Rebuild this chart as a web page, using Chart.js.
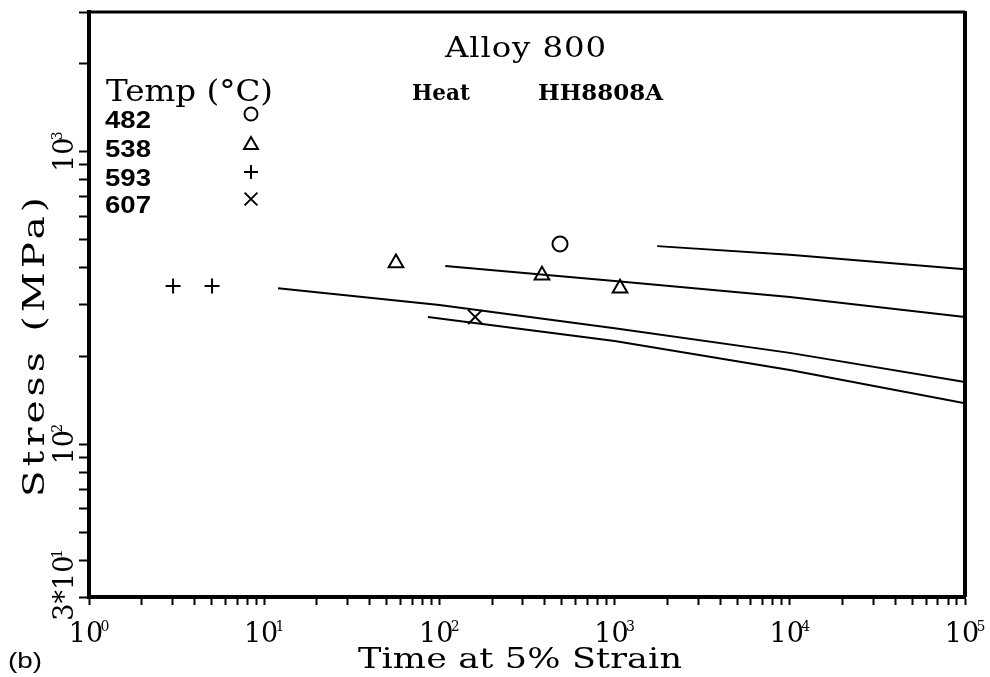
<!DOCTYPE html>
<html>
<head>
<meta charset="utf-8">
<script src="https://cdn.jsdelivr.net/npm/chart.js@4/dist/chart.umd.min.js"></script>
<style>
html,body{margin:0;padding:0;background:#fff}
#wrap{width:990px;height:677px;position:relative}
</style>
</head>
<body>
<div id="wrap"><canvas id="c"></canvas></div>
<script>
// ---------- data ----------
const tempLabels = ['482', '538', '593', '607'];
const tempMarkers = ['circle', 'triangle', 'cross', 'crossRot'];

const time482 = [488];            const stress482 = [483];
const time538 = [56.5, 385, 1074]; const stress538 = [416, 378, 341];
const time593 = [3.02, 5.04];      const stress593 = [347, 347];
const time607 = [160];             const stress607 = [272];

const curveTimeA = [1750, 10000, 100000];          const curveStressA = [475, 444, 396];
const curveTimeB = [108, 1000, 10000, 100000];      const curveStressB = [406, 361, 318, 272];
const curveTimeC = [12, 100, 1000, 10000, 100000];  const curveStressC = [341, 299, 249, 205, 163];
const curveTimeD = [86, 1000, 10000, 100000];       const curveStressD = [272, 225, 179, 138];

const xLabelValues = [1, 10, 100, 1000, 10000, 100000];
const xLabelExps   = ['0', '1', '2', '3', '4', '5'];
const yLabelValues = [30, 100, 1000];
const yLabelPrefix = ['3*', '', ''];
const yLabelExps   = ['1', '2', '3'];

const titleText = 'Alloy 800';
const heatLabel = 'Heat';
const heatValue = 'HH8808A';
const legendTitle = 'Temp (°C)';
const xTitle = 'Time at 5% Strain';
const yTitle = 'Stress (MPa)';
const panelLabel = '(b)';

// ---------- helpers ----------
const pts = (xs, ys) => xs.map((v, i) => ({x: v, y: ys[i]}));
function logTicks(minExp, maxExp, startMant, endMant) {
  const out = [];
  for (let e = minExp; e <= maxExp; e++) {
    for (let m = 1; m <= 9; m++) {
      if (e === minExp && m < startMant) continue;
      if (e === maxExp && m > endMant) continue;
      out.push({value: m * Math.pow(10, e), major: m === 1});
    }
  }
  return out;
}
// draw text into a given width: widen glyphs a little, then letter-space the rest
function fitText(ctx, txt, x, y, font, width, maxStretch) {
  maxStretch = maxStretch || 1.2;
  ctx.save();
  ctx.font = font;
  ctx.letterSpacing = '0px';
  ctx.textAlign = 'left';
  const w = ctx.measureText(txt).width;
  const n = [...txt].length;
  const sx = Math.max(0.85, Math.min(maxStretch, width / w));
  const rest = width / sx - w;
  const sp = n > 1 ? rest / (n - 1) : 0;
  ctx.translate(x, y);
  ctx.scale(sx, 1);
  ctx.letterSpacing = sp + 'px';
  ctx.fillText(txt, 0, 0);
  ctx.restore();
}
function drawPow(ctx, cx, baseline, prefix, exp) {
  const big = '27px "DejaVu Serif"', small = '14px "DejaVu Serif"';
  ctx.font = big;
  const main = prefix + '10';
  const w1 = ctx.measureText(main).width;
  ctx.font = small;
  const w2 = ctx.measureText(exp).width;
  const x0 = cx - (w1 + w2 * 0.7) / 2;
  ctx.textAlign = 'left';
  ctx.font = big;
  ctx.fillText(main, x0, baseline);
  ctx.font = small;
  ctx.fillText(exp, x0 + w1 - w2 * 0.3, baseline - 11);
}

const decor = {
  id: 'decor',
  afterDraw(chart) {
    const {ctx, chartArea: a, scales: {x, y}} = chart;
    ctx.save();
    ctx.fillStyle = '#000';
    ctx.strokeStyle = '#000';
    // frame: top and right edges
    ctx.lineWidth = 3;
    ctx.beginPath();
    ctx.moveTo(a.left - 2, a.top);
    ctx.lineTo(a.right, a.top);
    ctx.stroke();
    ctx.lineWidth = 4;
    ctx.beginPath();
    ctx.moveTo(a.right, a.top - 1);
    ctx.lineTo(a.right, a.bottom);
    ctx.stroke();

    ctx.textBaseline = 'alphabetic';
    // x tick labels
    xLabelValues.forEach((v, i) => {
      drawPow(ctx, x.getPixelForValue(v), a.bottom + 45, '', xLabelExps[i]);
    });
    // y tick labels (rotated)
    yLabelValues.forEach((v, i) => {
      let py = y.getPixelForValue(v);
      if (i === 0) py -= 12;
      ctx.save();
      ctx.translate(a.left - 16, py);
      ctx.rotate(-Math.PI / 2);
      drawPow(ctx, 0, 0, yLabelPrefix[i], yLabelExps[i]);
      ctx.restore();
    });
    // axis titles
    fitText(ctx, xTitle, 358, 668, '28px "DejaVu Serif"', 324, 1.25);
    ctx.save();
    ctx.translate(44, 347);
    ctx.rotate(-Math.PI / 2);
    fitText(ctx, yTitle, -150, 0, '30px "DejaVu Serif"', 300, 1.3);
    ctx.restore();
    // panel label
    fitText(ctx, panelLabel, 8, 668, '22px "Liberation Sans"', 34, 1.3);
    // title block
    fitText(ctx, titleText, 445, 57, '27px "DejaVu Serif"', 161, 1.2);
    fitText(ctx, heatLabel, 412, 100, 'bold 22px "DejaVu Serif"', 58, 1.1);
    fitText(ctx, heatValue, 538, 100, 'bold 22px "DejaVu Serif"', 125, 1.1);
    // legend
    fitText(ctx, legendTitle, 106, 101, '30px "DejaVu Serif"', 167, 1.2);
    const rowY = [128, 157, 186, 213];
    const radii = {circle: 6.5, triangle: 8, cross: 7, crossRot: 9};
    tempLabels.forEach((t, i) => {
      ctx.fillStyle = '#000';
      fitText(ctx, t, 105, rowY[i], 'bold 24px "Liberation Sans"', 46, 1.15);
      const st = tempMarkers[i];
      ctx.fillStyle = 'rgba(0,0,0,0)';
      ctx.strokeStyle = '#000';
      ctx.lineWidth = 2;
      Chart.helpers.drawPoint(ctx, {pointStyle: st, radius: radii[st], rotation: 0, borderWidth: 2},
        251, rowY[i] - 14 + (st === 'triangle' ? 2 : 0));
    });
    ctx.restore();
  }
};

// ---------- chart ----------
const lineDs = (xs, ys) => ({
  data: pts(xs, ys), showLine: true, borderColor: '#000', borderWidth: 2,
  pointRadius: 0, fill: false, tension: 0
});
const ptDs = (xs, ys, style, r) => ({
  data: pts(xs, ys), showLine: false, pointStyle: style, pointRadius: r,
  pointBorderWidth: 2, pointBorderColor: '#000', pointBackgroundColor: 'rgba(0,0,0,0)'
});

new Chart(document.getElementById('c'), {
  type: 'scatter',
  data: {
    datasets: [
      lineDs(curveTimeA, curveStressA),
      lineDs(curveTimeB, curveStressB),
      lineDs(curveTimeC, curveStressC),
      lineDs(curveTimeD, curveStressD),
      ptDs(time482, stress482, 'circle', 7.5),
      ptDs(time538, stress538, 'triangle', 8.5),
      ptDs(time593, stress593, 'cross', 7.5),
      ptDs(time607, stress607, 'crossRot', 10)
    ]
  },
  options: {
    responsive: true,
    maintainAspectRatio: false,
    animation: false,
    layout: {padding: {left: 0, right: 25, top: 12, bottom: 0}},
    plugins: {legend: {display: false}, tooltip: {enabled: false}},
    scales: {
      x: {
        type: 'logarithmic', min: 1, max: 100000,
        afterBuildTicks: s => { s.ticks = logTicks(0, 5, 1, 1); },
        afterFit: s => { s.height = 80; },
        ticks: {display: false},
        grid: {drawOnChartArea: false, drawTicks: true, tickLength: 8, tickWidth: 2, tickColor: '#000'},
        border: {display: true, width: 4, color: '#000'}
      },
      y: {
        type: 'logarithmic', min: 30, max: 3000,
        afterBuildTicks: s => { s.ticks = logTicks(1, 3, 3, 3); },
        afterFit: s => { s.width = 89; },
        ticks: {display: false},
        grid: {drawOnChartArea: false, drawTicks: true, tickLength: 10, tickWidth: 2, tickColor: '#000'},
        border: {display: true, width: 4, color: '#000'}
      }
    }
  },
  plugins: [decor]
});
</script>
</body>
</html>
